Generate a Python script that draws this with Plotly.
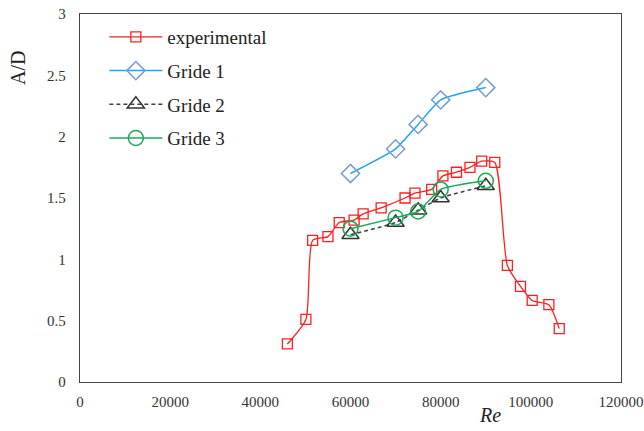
import plotly.graph_objects as go

exp_re = [46000, 50100, 51600, 55000, 57500, 60800, 62800, 66800, 72100, 74300,
          78000, 80500, 83500, 86500, 89100, 92000, 94800, 97700, 100300, 104000, 106300]
exp_ad = [0.31, 0.51, 1.155, 1.185, 1.30, 1.32, 1.37, 1.42, 1.50, 1.54,
          1.57, 1.68, 1.71, 1.75, 1.80, 1.79, 0.95, 0.78, 0.665, 0.63, 0.435]

grid_re = [60000, 70000, 75000, 80000, 90000]
grid1_ad = [1.7, 1.9, 2.1, 2.3, 2.4]
grid2_ad = [1.2, 1.3, 1.4, 1.5, 1.6]
grid3_ad = [1.25, 1.34, 1.39, 1.57, 1.64]

x_ticks = [0, 20000, 40000, 60000, 80000, 100000, 120000]
y_ticks = [0, 0.5, 1, 1.5, 2, 2.5, 3]
y_tick_text = ["0", "0.5", "1", "1.5", "2", "2.5", "3"]

SERIF = "Times New Roman, Liberation Serif, serif"

fig = go.Figure()
fig.add_trace(go.Scatter(
    x=exp_re, y=exp_ad, name="experimental", mode="lines+markers", legendgroup="a",
    line=dict(color="#FF1F1F", width=1.3, shape="spline", smoothing=0.6),
    marker=dict(symbol="square-open", size=10, color="#FF1F1F", line=dict(width=1.3))))
fig.add_trace(go.Scatter(
    x=grid_re, y=grid1_ad, name="Gride 1", mode="lines+markers", legendgroup="b",
    line=dict(color="#1FA5F0", width=1.5, shape="spline", smoothing=0.5),
    marker=dict(symbol="diamond-open", size=14, color="#7A9BD0", line=dict(width=1.5))))
fig.add_trace(go.Scatter(
    x=grid_re, y=grid2_ad, name="Gride 2", mode="lines+markers", legendgroup="c",
    line=dict(color="#404040", width=1.5, dash="4px,3px", shape="spline", smoothing=0.5),
    marker=dict(symbol="triangle-up-open", size=15, color="#333333", line=dict(width=1.5))))
fig.add_trace(go.Scatter(
    x=grid_re, y=grid3_ad, name="Gride 3", mode="lines+markers", legendgroup="d",
    line=dict(color="#1EA85A", width=1.5, shape="spline", smoothing=0.5),
    marker=dict(symbol="circle-open", size=15, color="#1EA85A", line=dict(width=1.5))))

fig.update_layout(
    width=644, height=431,
    margin=dict(l=80, r=23, t=14, b=49, autoexpand=False),
    paper_bgcolor="white", plot_bgcolor="white",
    font=dict(family=SERIF, color="#333333"),
    showlegend=True,
    legend=dict(x=0.045, y=0.989, xanchor="left", yanchor="top",
                font=dict(family=SERIF, size=19, color="#222222"),
                bgcolor="rgba(0,0,0,0)", itemwidth=53, tracegroupgap=6),
    xaxis=dict(range=[0, 120000], tickvals=x_ticks, ticktext=[str(v) for v in x_ticks],
               showgrid=False, zeroline=False, showline=True, linecolor="#444444",
               linewidth=1.3, mirror=True, ticks="", tickfont=dict(size=15, color="#333333"),
               ticklabelstandoff=6, automargin=False, ticklabeloverflow="allow"),
    yaxis=dict(range=[0, 3], tickvals=y_ticks, ticktext=y_tick_text,
               showgrid=False, zeroline=False, showline=True, linecolor="#444444",
               linewidth=1.3, mirror=True, ticks="", tickfont=dict(size=15, color="#333333"),
               ticklabelstandoff=10, automargin=False, ticklabeloverflow="allow"),
    annotations=[
        dict(text="A/D", xref="paper", yref="paper", x=-0.115, y=0.853, textangle=-90,
             xanchor="center", yanchor="middle",
             showarrow=False, font=dict(family=SERIF, size=20, color="#222222")),
        dict(text="<i>Re</i>", xref="paper", yref="paper", x=0.758, y=-0.09,
             xanchor="center", yanchor="middle",
             showarrow=False, font=dict(family=SERIF, size=20, color="#222222")),
    ],
)

fig.write_html(
    "out.html",
    config={"displayModeBar": False},
    post_script="document.body.style.margin='0';document.body.style.overflow='hidden';",
)
